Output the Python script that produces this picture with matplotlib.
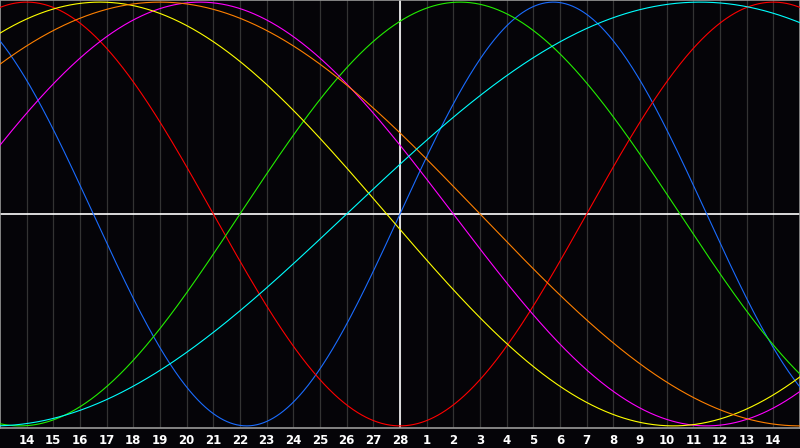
import numpy as np
import matplotlib
matplotlib.use("Agg")
import matplotlib.pyplot as plt

# dias del mes mostrados (posiciones 1..29 en el eje)
dias = [14, 15, 16, 17, 18, 19, 20, 21, 22, 23, 24, 25, 26, 27, 28,
        1, 2, 3, 4, 5, 6, 7, 8, 9, 10, 11, 12, 13, 14]
hoy = 15  # posicion del dia marcado (28)

# ciclos: periodo en dias y dia del ciclo al inicio del grafico
periodos = [23, 28, 33, 38, 43, 48, 53]
dia_ciclo = [8, 6, 24, 2, 7, 6, 40]
colores = ["#1a6cff", "#ff0000", "#22ee00", "#ff00ff", "#ffff00", "#ff8000", "#00ffff"]

fondo = "#050408"
fig = plt.figure(figsize=(8, 4.48), dpi=100, facecolor=fondo)
ax = fig.add_axes([0, 20 / 448, 1, 428 / 448])
ax.set_facecolor(fondo)

d = np.linspace(0, 30, 1200)
for i in range(1, 30):
    ax.axvline(i, color="#333333", lw=0.9, zorder=1)
ax.axvline(hoy, color="white", lw=1.2, zorder=2)
ax.axhline(0, color="white", lw=1.2, zorder=2)

for P, c0, col in zip(periodos, dia_ciclo, colores):
    ax.plot(d, np.sin(2 * np.pi * (c0 + d) / P), color=col, lw=0.8, zorder=3)

ax.set_xlim(0, 30)
ax.set_ylim(-1.01, 1.01)
ax.set_yticks([])
ax.set_xticks(range(1, 30))
ax.set_xticklabels([str(x) for x in dias], color="white", fontsize=8.5,
                   fontweight="bold")
ax.tick_params(axis="x", length=0, pad=4.5)
for s in ax.spines.values():
    s.set_color("#999999")
    s.set_linewidth(1.2)

plt.savefig("out.png", dpi=100, facecolor=fondo)
